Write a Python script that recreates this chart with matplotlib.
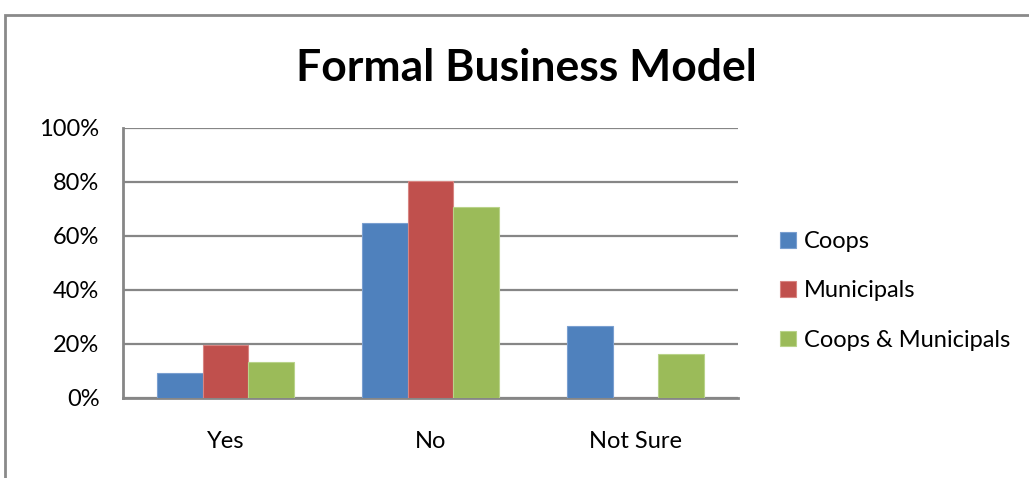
import matplotlib.pyplot as plt
import numpy as np
from matplotlib.patches import Rectangle

categories = ["Yes", "No", "Not Sure"]
series_names = ["Coops", "Municipals", "Coops & Municipals"]
coops = [9.0, 64.6, 26.4]
municipals = [19.5, 80.5, 0.0]
coops_municipals = [13.2, 70.7, 16.1]
colors = ["#4F81BD", "#C0504D", "#9BBB59"]
edge_colors = ["#7A9FD0", "#D88582", "#B9D38A"]

plt.rcParams["font.family"] = ["Lato", "DejaVu Sans"]

fig = plt.figure(figsize=(10.29, 4.78), dpi=100)
W, H = 1029, 478

# chart outer border (cropped at right and bottom)
fig.patches.append(Rectangle((5 / W, -0.1), 1.2, (H - 15) / H + 0.1,
                             transform=fig.transFigure, fill=False,
                             edgecolor="#8A8A8A", linewidth=2))

ax = fig.add_axes([123 / W, 1 - 397.7 / H, 615 / W, 269.7 / H])

x = np.arange(len(categories))
width = 1 / 4.5
for i, (vals, name) in enumerate(zip([coops, municipals, coops_municipals], series_names)):
    ax.bar(x + (i - 1) * width, vals, width, color=colors[i], edgecolor=edge_colors[i],
           linewidth=0.8, label=name, zorder=3)

ax.set_xlim(-0.5, 2.5)
ax.set_ylim(0, 100)
ax.set_yticks(range(0, 101, 20))
ax.set_yticklabels([f"{v}%" for v in range(0, 101, 20)], fontsize=17)
ax.set_xticks(x)
ax.set_xticklabels(categories, fontsize=17)
ax.tick_params(axis="y", length=0, pad=17)
ax.tick_params(axis="x", length=0, pad=24)
ax.grid(axis="y", color="#868686", linewidth=1.6, zorder=0)
for side in ["top", "right"]:
    ax.spines[side].set_visible(False)
for side in ["left", "bottom"]:
    ax.spines[side].set_color("#868686")
    ax.spines[side].set_linewidth(2)

fig.text(526 / W, 1 - 68 / H, "Formal Business Model", ha="center", va="center",
         fontsize=32, fontweight="bold")

fig.legend(loc="center left", bbox_to_anchor=(759 / W, 1 - 291 / H), frameon=False,
           fontsize=17, handlelength=0.65, handleheight=0.65, handletextpad=0.35,
           labelspacing=1.2)

fig.savefig("out.png", dpi=100)
